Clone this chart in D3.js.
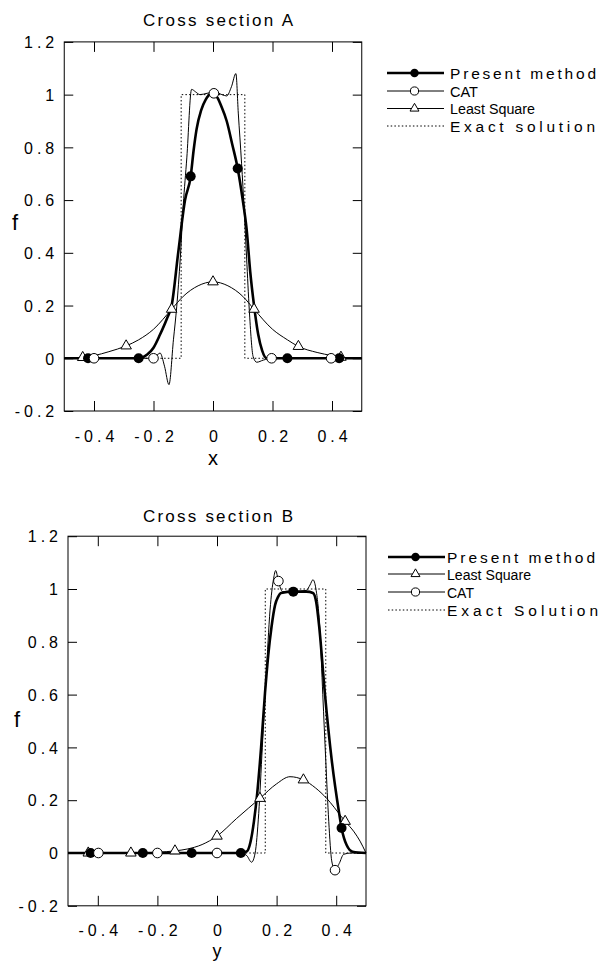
<!DOCTYPE html>
<html><head><meta charset="utf-8">
<script src="https://cdn.jsdelivr.net/npm/d3@7"></script>
<style>body{margin:0;background:#fff}svg{display:block}</style>
</head><body>
<svg id="c" width="609" height="961"></svg>
<script>
// ---------- tick values / labels ----------
const xTickVals = [-0.4, -0.2, 0, 0.2, 0.4];
const xTickLabels = ["-0.4", "-0.2", "0", "0.2", "0.4"];
const yTickVals = [-0.2, 0, 0.2, 0.4, 0.6, 0.8, 1, 1.2];
const yTickLabels = ["-0.2", "0", "0.2", "0.4", "0.6", "0.8", "1", "1.2"];

// ---------- Cross section A ----------
const presentAX = [-0.5, -0.42, -0.3, -0.25, -0.22, -0.2, -0.178, -0.155, -0.139, -0.117, -0.094, -0.075, -0.065, -0.055, -0.04, -0.025, -0.01, 0.01, 0.03, 0.046, 0.065, 0.083, 0.1, 0.113, 0.125, 0.138, 0.152, 0.165, 0.18, 0.25, 0.42, 0.5];
const presentAY = [0, 0, 0, 0, 0.015, 0.04, 0.09, 0.15, 0.2, 0.4, 0.6, 0.69, 0.79, 0.87, 0.94, 0.98, 1.0, 0.995, 0.95, 0.9, 0.81, 0.72, 0.6, 0.49, 0.33, 0.2, 0.09, 0.03, 0, 0, 0, 0];
const presentAMarkX = [-0.42, -0.25, -0.075, 0.083, 0.25, 0.424];
const presentAMarkY = [0, 0, 0.69, 0.72, 0, 0];

const catAX = [-0.5, -0.4, -0.3, -0.2, -0.178, -0.163, -0.148, -0.133, -0.122, -0.11, -0.1, -0.088, -0.072, -0.058, -0.044, -0.02, 0.007, 0.03, 0.046, 0.062, 0.077, 0.085, 0.096, 0.105, 0.113, 0.122, 0.135, 0.147, 0.169, 0.197, 0.3, 0.4, 0.5];
const catAY = [0, 0, 0, 0, 0.02, -0.03, -0.1, 0.07, 0.195, 0.38, 0.58, 0.76, 1.02, 1.01, 1.0, 1.005, 1.01, 1.0, 0.995, 1.03, 1.08, 0.93, 0.74, 0.56, 0.38, 0.183, 0.006, -0.015, -0.007, 0, 0, 0, 0];
const catAMarkX = [-0.4, -0.2, 0.003, 0.197, 0.397];
const catAMarkY = [0, 0, 1.005, 0, 0];

const lsAX = [-0.5, -0.438, -0.4, -0.35, -0.292, -0.25, -0.2, -0.139, -0.1, -0.05, 0, 0.05, 0.1, 0.138, 0.2, 0.25, 0.287, 0.35, 0.4, 0.43, 0.5];
const lsAY = [0, 0.003, 0.01, 0.025, 0.047, 0.07, 0.11, 0.186, 0.235, 0.275, 0.29, 0.275, 0.235, 0.186, 0.11, 0.07, 0.045, 0.022, 0.01, 0.004, 0];
const lsAMarkX = [-0.438, -0.292, -0.139, 0, 0.138, 0.287, 0.43];
const lsAMarkY = [0.003, 0.047, 0.186, 0.29, 0.186, 0.045, 0.004];

const exactAX = [-0.5, -0.107, -0.107, 0.107, 0.107, 0.5];
const exactAY = [0, 0, 1, 1, 0, 0];

// ---------- Cross section B ----------
const presentBX = [-0.5, -0.424, -0.249, -0.085, 0.08, 0.1, 0.112, 0.124, 0.135, 0.148, 0.161, 0.172, 0.183, 0.195, 0.205, 0.215, 0.256, 0.3, 0.322, 0.333, 0.343, 0.362, 0.385, 0.41, 0.418, 0.435, 0.455, 0.5];
const presentBY = [0, 0, 0, 0, 0, 0.006, 0.04, 0.12, 0.227, 0.4, 0.605, 0.75, 0.857, 0.94, 0.97, 0.985, 0.99, 0.99, 0.985, 0.95, 0.857, 0.605, 0.352, 0.15, 0.095, 0.03, 0.005, 0];
const presentBMarkX = [-0.424, -0.249, -0.085, 0.08, 0.256, 0.418];
const presentBMarkY = [0, 0, 0, 0, 0.99, 0.095];

const lsBX = [-0.5, -0.432, -0.35, -0.289, -0.2, -0.141, -0.1, -0.05, 0, 0.066, 0.144, 0.2, 0.245, 0.29, 0.33, 0.368, 0.418, 0.43, 0.46, 0.48, 0.5];
const lsBY = [0, 0, 0, 0, 0.003, 0.008, 0.015, 0.032, 0.064, 0.131, 0.207, 0.262, 0.289, 0.277, 0.247, 0.207, 0.137, 0.12, 0.08, 0.045, 0];
const lsBMarkX = [-0.432, -0.289, -0.141, 0, 0.144, 0.29, 0.43];
const lsBMarkY = [0, 0, 0.008, 0.064, 0.207, 0.277, 0.12];

const catBX = [-0.5, -0.398, -0.2, 0, 0.08, 0.1, 0.116, 0.128, 0.14, 0.152, 0.165, 0.178, 0.19, 0.197, 0.206, 0.22, 0.26, 0.3, 0.312, 0.322, 0.332, 0.345, 0.355, 0.365, 0.375, 0.385, 0.396, 0.41, 0.425, 0.45, 0.5];
const catBY = [0, 0, 0, 0, 0, -0.01, -0.035, 0.0, 0.15, 0.4, 0.67, 0.92, 1.04, 1.07, 1.03, 0.99, 0.99, 0.995, 1.015, 1.035, 1.0, 0.85, 0.6, 0.35, 0.12, -0.03, -0.065, -0.04, -0.005, 0, 0];
const catBMarkX = [-0.398, -0.2, 0, 0.206, 0.396];
const catBMarkY = [0, 0, 0, 1.03, -0.065];

const exactBX = [-0.5, 0.162, 0.162, 0.365, 0.365, 0.5];
const exactBY = [0, 0, 1, 1, 0, 0];

// ---------- drawing ----------
const svg = d3.select("#c");
const FONT = "'Liberation Sans', Arial, Helvetica, sans-serif";
const zip = (xs, ys) => xs.map((x, i) => [x, ys[i]]);

const styles = {
  present: {w: 2.6, dash: null, marker: "filled"},
  cat: {w: 1, dash: null, marker: "circle"},
  ls: {w: 1, dash: null, marker: "triangle"},
  exact: {w: 1, dash: "1.5,2.2", marker: null}
};

function panel(cfg) {
  const x = d3.scaleLinear().domain([-0.5, 0.5]).range(cfg.xr);
  const y = d3.scaleLinear().domain([-0.2, 1.2]).range(cfg.yr);
  const g = svg.append("g");
  const [x0, x1] = cfg.xr, [y0, y1] = [cfg.yr[1], cfg.yr[0]];

  cfg.series.forEach(s => {
    const st = styles[s.kind];
    const line = d3.line().x(d => x(d[0])).y(d => y(d[1]))
      .curve(s.kind === "exact" ? d3.curveLinear : d3.curveMonotoneX);
    g.append("path").attr("d", line(zip(s.xs, s.ys)))
      .attr("fill", "none").attr("stroke", "#000")
      .attr("stroke-width", st.w)
      .attr("stroke-dasharray", st.dash)
      .attr("stroke-linejoin", "round");
  });
  cfg.series.forEach(s => {
    if (!s.mx) return;
    drawMarkers(g, styles[s.kind].marker, zip(s.mx, s.my).map(d => [x(d[0]), y(d[1])]));
  });

  g.append("rect").attr("x", x0).attr("y", y0).attr("width", x1 - x0).attr("height", y1 - y0)
    .attr("fill", "none").attr("stroke", "#000").attr("stroke-width", 1);

  const fmtX = d => xTickLabels[xTickVals.indexOf(d)];
  const fmtY = d => yTickLabels[yTickVals.indexOf(d)];
  const ax = g.append("g").attr("transform", `translate(0,${y1})`)
    .call(d3.axisBottom(x).tickValues(xTickVals).tickFormat(fmtX).tickSize(-10).tickSizeOuter(0).tickPadding(cfg.xPad));
  const at = g.append("g").attr("transform", `translate(0,${y0})`)
    .call(d3.axisTop(x).tickValues(xTickVals).tickFormat("").tickSize(-10).tickSizeOuter(0));
  const ay = g.append("g").attr("transform", `translate(${x0},0)`)
    .call(d3.axisLeft(y).tickValues(yTickVals).tickFormat(fmtY).tickSize(-9).tickSizeOuter(0).tickPadding(6));
  const ar = g.append("g").attr("transform", `translate(${x1},0)`)
    .call(d3.axisRight(y).tickValues(yTickVals).tickFormat("").tickSize(-9).tickSizeOuter(0));
  [ax, at, ay, ar].forEach(a => { a.select(".domain").remove(); a.selectAll("line").attr("stroke", "#000"); });
  ax.selectAll("text").attr("font-family", FONT).attr("font-size", 16).attr("fill", "#000")
    .attr("letter-spacing", 4).attr("dx", 2);
  ay.selectAll("text").attr("font-family", FONT).attr("font-size", 16).attr("fill", "#000")
    .attr("letter-spacing", 4).attr("dy", "0.36em");

  g.append("text").attr("x", cfg.titleX).attr("y", cfg.titleY).attr("text-anchor", "middle")
    .attr("font-family", FONT).attr("font-size", 17).attr("textLength", 150).attr("lengthAdjust", "spacing")
    .text(cfg.title);
  g.append("text").attr("x", (x0 + x1) / 2).attr("y", cfg.xLabY).attr("text-anchor", "middle")
    .attr("font-family", FONT).attr("font-size", cfg.xLabSize).text(cfg.xLabel);
  g.append("text").attr("x", cfg.fX).attr("y", cfg.fY)
    .attr("font-family", FONT).attr("font-size", 22).text("f");

  cfg.legend.forEach((it, i) => {
    const ly = cfg.legY[i];
    const st = styles[it.kind];
    const lx0 = cfg.legX0, lx1 = cfg.legX1, lm = (lx0 + lx1) / 2 - 1;
    g.append("line").attr("x1", lx0).attr("x2", lx1).attr("y1", ly).attr("y2", ly)
      .attr("stroke", "#000").attr("stroke-width", st.w).attr("stroke-dasharray", st.dash);
    if (st.marker) drawMarkers(g, st.marker, [[lm, ly]], true);
    g.append("text").attr("x", cfg.legTX).attr("y", ly + 5.5)
      .attr("font-family", FONT).attr("font-size", 15.5)
      .attr("textLength", it.w)
      .attr("lengthAdjust", it.label.length > 12 ? "spacing" : "spacingAndGlyphs")
      .text(it.label);
  });
}

function drawMarkers(g, type, pts, small) {
  const k = small ? 0.85 : 1;
  pts.forEach(p => {
    if (type === "filled") {
      g.append("circle").attr("cx", p[0]).attr("cy", p[1]).attr("r", 5 * k).attr("fill", "#000");
    } else if (type === "circle") {
      g.append("circle").attr("cx", p[0]).attr("cy", p[1]).attr("r", 4.8 * k)
        .attr("fill", "#fff").attr("stroke", "#000").attr("stroke-width", 1);
    } else if (type === "triangle") {
      g.append("path").attr("transform", `translate(${p[0]},${p[1]})`)
        .attr("d", d3.symbol(d3.symbolTriangle, 48 * k * k)())
        .attr("fill", "#fff").attr("stroke", "#000").attr("stroke-width", 1);
    }
  });
}

panel({
  title: "Cross section A", titleX: 218, titleY: 26,
  xr: [64.25, 361.75], yr: [411, 41.9], xPad: 20,
  xLabel: "x", xLabY: 465, xLabSize: 20, fX: 12, fY: 230,
  series: [
    {kind: "exact", xs: exactAX, ys: exactAY},
    {kind: "ls", xs: lsAX, ys: lsAY, mx: lsAMarkX, my: lsAMarkY},
    {kind: "present", xs: presentAX, ys: presentAY, mx: presentAMarkX, my: presentAMarkY},
    {kind: "cat", xs: catAX, ys: catAY, mx: catAMarkX, my: catAMarkY}
  ],
  legX0: 387, legX1: 444, legTX: 450, legY: [73, 91, 108.5, 126],
  legend: [
    {kind: "present", label: "Present method", w: 146},
    {kind: "cat", label: "CAT", w: 28},
    {kind: "ls", label: "Least Square", w: 85},
    {kind: "exact", label: "Exact solution", w: 145}
  ]
});

panel({
  title: "Cross section B", titleX: 218, titleY: 522,
  xr: [68, 366], yr: [905.8, 536.2], xPad: 19,
  xLabel: "y", xLabY: 957, xLabSize: 18, fX: 14, fY: 727,
  series: [
    {kind: "exact", xs: exactBX, ys: exactBY},
    {kind: "ls", xs: lsBX, ys: lsBY, mx: lsBMarkX, my: lsBMarkY},
    {kind: "present", xs: presentBX, ys: presentBY, mx: presentBMarkX, my: presentBMarkY},
    {kind: "cat", xs: catBX, ys: catBY, mx: catBMarkX, my: catBMarkY}
  ],
  legX0: 388, legX1: 445, legTX: 447, legY: [557, 574, 592, 610],
  legend: [
    {kind: "present", label: "Present method", w: 148},
    {kind: "ls", label: "Least Square", w: 84},
    {kind: "cat", label: "CAT", w: 27},
    {kind: "exact", label: "Exact Solution", w: 151}
  ]
});
</script>
</body></html>
